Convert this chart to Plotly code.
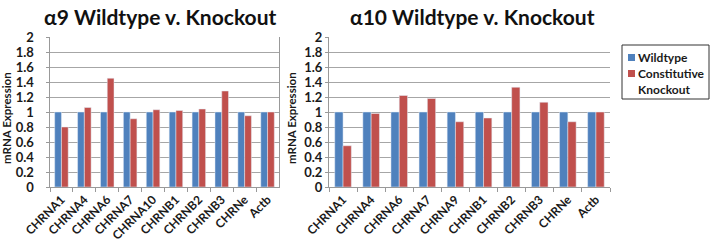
import plotly.graph_objects as go

cats_a9 = ["CHRNA1", "CHRNA4", "CHRNA6", "CHRNA7", "CHRNA10", "CHRNB1", "CHRNB2", "CHRNB3", "CHRNe", "Actb"]
wt_a9 = [1, 1, 1, 1, 1, 1, 1, 1, 1, 1]
ko_a9 = [0.80, 1.06, 1.45, 0.91, 1.03, 1.02, 1.04, 1.28, 0.95, 1.00]

cats_a10 = ["CHRNA1", "CHRNA4", "CHRNA6", "CHRNA7", "CHRNA9", "CHRNB1", "CHRNB2", "CHRNB3", "CHRNe", "Actb"]
wt_a10 = [1, 1, 1, 1, 1, 1, 1, 1, 1, 1]
ko_a10 = [0.55, 0.98, 1.22, 1.18, 0.87, 0.92, 1.33, 1.13, 0.87, 1.00]

ytick_vals = [0, 0.2, 0.4, 0.6, 0.8, 1, 1.2, 1.4, 1.6, 1.8, 2]
ytick_text = ["0", "0.2", "0.4", "0.6", "0.8", "1", "1.2", "1.4", "1.6", "1.8", "2"]

series_names = ["Wildtype", "Constitutive<br>Knockout"]

BLUE = "#4F81BD"
RED = "#C0504D"
FONT = "Lato"
TXT = "#1a1a1a"

fig = go.Figure()
fig.add_trace(go.Bar(x=cats_a9, y=wt_a9, name=series_names[0], marker_color=BLUE, xaxis="x", yaxis="y", showlegend=False))
fig.add_trace(go.Bar(x=cats_a9, y=ko_a9, name=series_names[1], marker_color=RED, xaxis="x", yaxis="y", showlegend=False))
fig.add_trace(go.Bar(x=cats_a10, y=wt_a10, name=series_names[0], marker_color=BLUE, xaxis="x2", yaxis="y2", showlegend=False))
fig.add_trace(go.Bar(x=cats_a10, y=ko_a10, name=series_names[1], marker_color=RED, xaxis="x2", yaxis="y2", showlegend=False))

W, H = 714, 246
ydom = [59 / H, 209 / H]

common_x = dict(
    type="category", tickangle=-45, automargin=False,
    tickfont=dict(family=FONT, size=12, color=TXT, weight="bold"),
    showline=True, linecolor="#999", linewidth=1, ticks="outside", ticklen=4, tickcolor="#999",
    tickson="boundaries", showgrid=False, zeroline=False, fixedrange=True,
)
common_y = dict(
    range=[0, 2], tickvals=ytick_vals, automargin=False,
    tickfont=dict(family=FONT, size=13, color=TXT, weight="bold"),
    showgrid=True, gridcolor="#a6a6a6", gridwidth=1, zeroline=False,
    showline=True, linecolor="#999", ticks="outside", ticklen=3, tickcolor="#999",
    fixedrange=True,
)

# manual legend (box, swatches, labels)
lx0, ly0, lx1, ly1 = 622, 45, 709, 99
shapes = [
    dict(type="rect", xref="paper", yref="paper", x0=lx0 / W, x1=lx1 / W, y0=1 - ly1 / H, y1=1 - ly0 / H,
         line=dict(color="#333", width=1), fillcolor="white"),
    dict(type="rect", xref="paper", yref="paper", x0=628 / W, x1=635 / W, y0=1 - 61 / H, y1=1 - 54 / H,
         line=dict(width=0), fillcolor=BLUE),
    dict(type="rect", xref="paper", yref="paper", x0=628 / W, x1=635 / W, y0=1 - 77 / H, y1=1 - 70 / H,
         line=dict(width=0), fillcolor=RED),
]

annotations = [
    dict(text="<b>α9 Wildtype v. Knockout</b>", x=160 / W, y=1 - 16 / H, xref="paper", yref="paper",
         showarrow=False, font=dict(family=FONT, size=21, color="#111"), xanchor="center", yanchor="middle"),
    dict(text="<b>α10 Wildtype v. Knockout</b>", x=472 / W, y=1 - 16 / H, xref="paper", yref="paper",
         showarrow=False, font=dict(family=FONT, size=21, color="#111"), xanchor="center", yanchor="middle"),
    dict(text="<b>mRNA Expression</b>", x=6 / W, y=1 - 118 / H, xref="paper", yref="paper", textangle=-90,
         showarrow=False, font=dict(family=FONT, size=11.5, color=TXT), xanchor="center", yanchor="middle"),
    dict(text="<b>mRNA Expression</b>", x=291 / W, y=1 - 118 / H, xref="paper", yref="paper", textangle=-90,
         showarrow=False, font=dict(family=FONT, size=11.5, color=TXT), xanchor="center", yanchor="middle"),
    dict(text="<b>" + series_names[0] + "</b>", x=636 / W, y=1 - 57.5 / H, xref="paper", yref="paper",
         showarrow=False, font=dict(family=FONT, size=12, color=TXT), xanchor="left", yanchor="middle"),
    dict(text="<b>" + series_names[1] + "</b>", x=636 / W, y=1 - 81 / H, xref="paper", yref="paper",
         showarrow=False, font=dict(family=FONT, size=12, color=TXT), xanchor="left", yanchor="middle", align="left"),
]

pad = "\u00a0\u00a0\u00a0"

fig.update_layout(
    width=W, height=H, margin=dict(l=0, r=0, t=0, b=0),
    paper_bgcolor="white", plot_bgcolor="white",
    barmode="group", bargap=0.41, bargroupgap=0,
    font=dict(family=FONT, color=TXT),
    showlegend=False,
    xaxis=dict(domain=[50 / W, 279 / W], anchor="y", **common_x),
    yaxis=dict(domain=ydom, anchor="x", mirror=True, ticktext=[t + pad for t in ytick_text], **common_y),
    xaxis2=dict(domain=[329 / W, 610 / W], anchor="y2", **common_x),
    yaxis2=dict(domain=ydom, anchor="x2", ticktext=ytick_text, **common_y),
    shapes=shapes,
    annotations=annotations,
)

fig.write_html("out.html", config={"displayModeBar": False},
               post_script="document.body.style.margin='0';")
